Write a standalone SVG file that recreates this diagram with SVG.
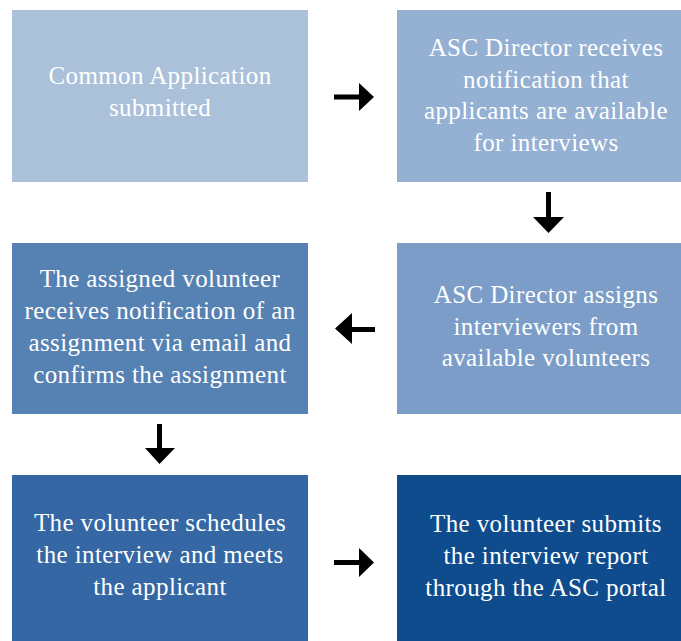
<svg xmlns="http://www.w3.org/2000/svg" width="681" height="641" viewBox="0 0 681 641">
<style>
.t{font-family:"Liberation Serif","Times New Roman",serif;font-size:25px;fill:#ffffff;text-anchor:middle;letter-spacing:0.4px}
.a{fill:#000000}
</style>
<rect width="681" height="641" fill="#ffffff"/>
<g id="node1">
<rect x="12" y="10" width="296" height="172" fill="#abc1da"/>
<text class="t" x="160" y="84">Common Application</text>
<text class="t" x="160" y="116">submitted</text>
</g>
<g id="node2">
<rect x="397" y="10" width="284" height="172" fill="#94b0d3"/>
<text class="t" x="546" y="56">ASC Director receives</text>
<text class="t" x="546" y="88">notification that</text>
<text class="t" x="546" y="119">applicants are available</text>
<text class="t" x="546" y="151">for interviews</text>
</g>
<g id="node3">
<rect x="397" y="243" width="284" height="171" fill="#7b9dc7"/>
<text class="t" x="546" y="303">ASC Director assigns</text>
<text class="t" x="546" y="335">interviewers from</text>
<text class="t" x="546" y="366">available volunteers</text>
</g>
<g id="node4">
<rect x="12" y="243" width="296" height="171" fill="#5681b3"/>
<text class="t" x="160" y="287">The assigned volunteer</text>
<text class="t" x="160" y="319">receives notification of an</text>
<text class="t" x="160" y="351">assignment via email and</text>
<text class="t" x="160" y="383">confirms the assignment</text>
</g>
<g id="node5">
<rect x="12" y="475" width="296" height="166" fill="#3467a3"/>
<text class="t" x="160" y="531">The volunteer schedules</text>
<text class="t" x="160" y="563">the interview and meets</text>
<text class="t" x="160" y="595">the applicant</text>
</g>
<g id="node6">
<rect x="397" y="475" width="284" height="166" fill="#0e4c8e"/>
<text class="t" x="546" y="532">The volunteer submits</text>
<text class="t" x="546" y="564">the interview report</text>
<text class="t" x="546" y="596">through the ASC portal</text>
</g>
<g id="connectors">
<polygon class="a" points="334,94.5 359,94.5 359,83 374,97 359,111 359,99.5 334,99.5"/>
<polygon class="a" points="546,192 551,192 551,217 564,217 548.5,233 533,217 546,217"/>
<polygon class="a" points="375,327 352,327 352,313 335,328.5 352,344 352,332 375,332"/>
<polygon class="a" points="157,424 162,424 162,448 175,448 159.5,464 145,448 157,448"/>
<polygon class="a" points="334,560 359,560 359,548 374,562.5 359,577 359,565 334,565"/>
</g>
</svg>
